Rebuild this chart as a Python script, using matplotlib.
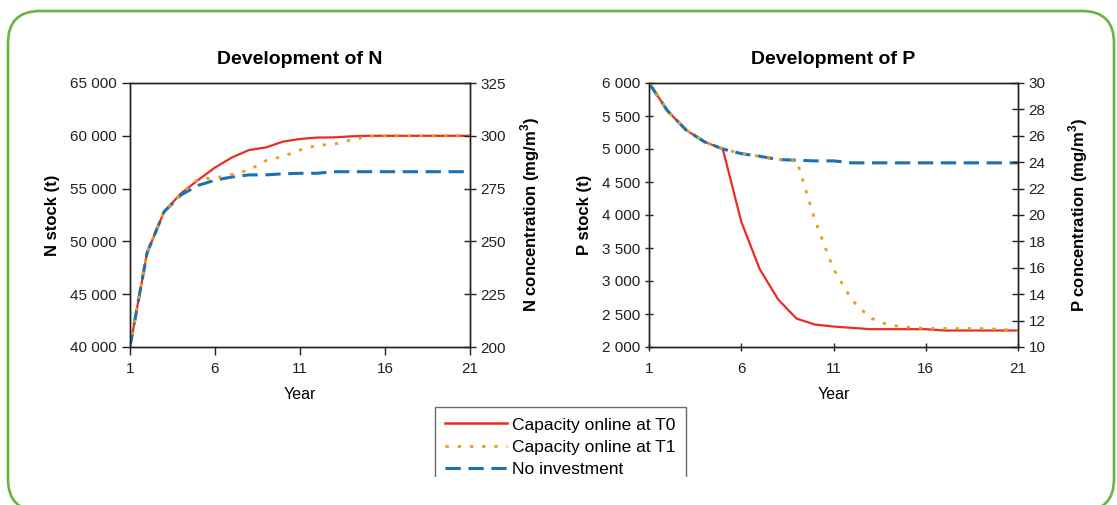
import matplotlib.pyplot as plt
from matplotlib.patches import FancyBboxPatch, Rectangle
from matplotlib.ticker import FuncFormatter
from matplotlib.lines import Line2D

plt.rcParams['font.family'] = ['Liberation Sans', 'DejaVu Sans']

years = list(range(1, 22))

n_t0 = [40000, 48900, 52800, 54550, 55800, 57000, 57950, 58650, 58900, 59450, 59700,
        59830, 59850, 59950, 60000, 60000, 60000, 60000, 60000, 60000, 60000]
n_t1 = [40000, 48900, 52800, 54500, 55900, 56000, 56350, 56750, 57650, 58050, 58650,
        59100, 59200, 59600, 59950, 60000, 60000, 60000, 60000, 60000, 60000]
n_none = [40000, 48900, 52800, 54400, 55300, 55800, 56100, 56300, 56300, 56400, 56450,
          56450, 56600, 56600, 56600, 56600, 56600, 56600, 56600, 56600, 56600]

p_t0 = [6000, 5580, 5290, 5110, 5000, 3900, 3180, 2720, 2430, 2340, 2310,
        2290, 2270, 2270, 2270, 2270, 2250, 2250, 2250, 2250, 2250]
p_t1 = [6000, 5580, 5290, 5110, 5000, 4930, 4890, 4840, 4830, 3920, 3180,
        2710, 2440, 2330, 2300, 2280, 2280, 2280, 2280, 2270, 2250]
p_none = [6000, 5580, 5290, 5110, 5000, 4930, 4890, 4840, 4830, 4820, 4820,
          4790, 4790, 4790, 4790, 4790, 4790, 4790, 4790, 4790, 4790]

labels = ['Capacity online at T0', 'Capacity online at T1', 'No investment']
conc_factor = 0.005  # stock (t) -> concentration (mg/m3)

RED = '#ee2a24'
ORANGE = '#eb9b1e'
BLUE = '#1a72b5'
DOTS = (1.2, 3.2)
DASHES = (5, 2.5)

fig = plt.figure(figsize=(11.17, 5.05), dpi=100)

# green rounded frame, in pixels
frame = FancyBboxPatch((8, -6), 1106, 500, boxstyle='round,pad=0,rounding_size=32',
                       transform=None, facecolor='none', edgecolor='#6ab43e', linewidth=1.9)
fig.patches.append(frame)

space_fmt = FuncFormatter(lambda v, p: f'{int(round(v)):,}'.replace(',', ' '))


def draw_panel(rect, t0, t1, none, ylim, yticks, ylabel, ylabel2, y2ticks, title,
               tickdir, xpad, pad2):
    ax = fig.add_axes(rect)
    ax.plot(years, t0, color=RED, lw=1.6, zorder=3)
    ax.plot(years, none, color=BLUE, lw=2.2, dashes=DASHES, zorder=4)
    ax.plot(years, t1, color=ORANGE, lw=2, dashes=DOTS, zorder=5)
    ax.set_xlim(1, 21)
    ax.set_xticks([1, 6, 11, 16, 21])
    ax.set_ylim(*ylim)
    ax.set_yticks(yticks)
    ax.yaxis.set_major_formatter(space_fmt)
    ax.tick_params(labelsize=11, direction=tickdir, length=6, width=1, colors='#231f20')
    ax.tick_params(axis='x', pad=xpad)
    ax.set_xlabel('Year', fontsize=11.5, labelpad=8)
    ax.set_ylabel(ylabel, fontsize=12, fontweight='bold', labelpad=7)
    ax.set_title(title, fontsize=14, fontweight='bold', pad=14)
    for s in ax.spines.values():
        s.set_color('#231f20')
        s.set_linewidth(1)

    ax2 = ax.twinx()
    ax2.set_ylim(ylim[0] * conc_factor, ylim[1] * conc_factor)
    ax2.set_yticks(y2ticks)
    ax2.tick_params(labelsize=11, direction='inout', length=8, width=1, colors='#231f20')
    ax2.set_ylabel(ylabel2, fontsize=12, fontweight='bold', labelpad=pad2)
    for s in ax2.spines.values():
        s.set_color('#231f20')
        s.set_linewidth(1)
    return ax


draw_panel([130 / 1117, 1 - 347 / 505, 340 / 1117, 264 / 505], n_t0, n_t1, n_none,
           (40000, 65000), range(40000, 65001, 5000), 'N stock (t)',
           'N concentration (mg/m$^\\mathregular{3}$)', range(200, 326, 25),
           'Development of N', 'out', 5, 9)
draw_panel([649 / 1117, 1 - 347 / 505, 369 / 1117, 264 / 505], p_t0, p_t1, p_none,
           (2000, 6000), range(2000, 6001, 500), 'P stock (t)',
           'P concentration (mg/m$^\\mathregular{3}$)', range(10, 31, 2),
           'Development of P', 'inout', 8, 15)

handles = [Line2D([], [], color=RED, lw=1.8),
           Line2D([], [], color=ORANGE, lw=2, dashes=DOTS),
           Line2D([], [], color=BLUE, lw=2.2, dashes=DASHES)]
leg = fig.legend(handles, labels, loc='upper left', bbox_to_anchor=(435 / 1117, 1 - 407 / 505),
                 fontsize=12.5, frameon=True, fancybox=False, edgecolor='#444444',
                 handlelength=3.55, handletextpad=0.3, labelspacing=0.4,
                 borderpad=0.6, borderaxespad=0)
leg.get_frame().set_linewidth(1)

# legend is cut off at the bottom in the original
fig.patches.append(Rectangle((420, 0), 300, 505 - 477, transform=None,
                             facecolor='white', edgecolor='none', zorder=10))

fig.savefig('out.png', dpi=100)
